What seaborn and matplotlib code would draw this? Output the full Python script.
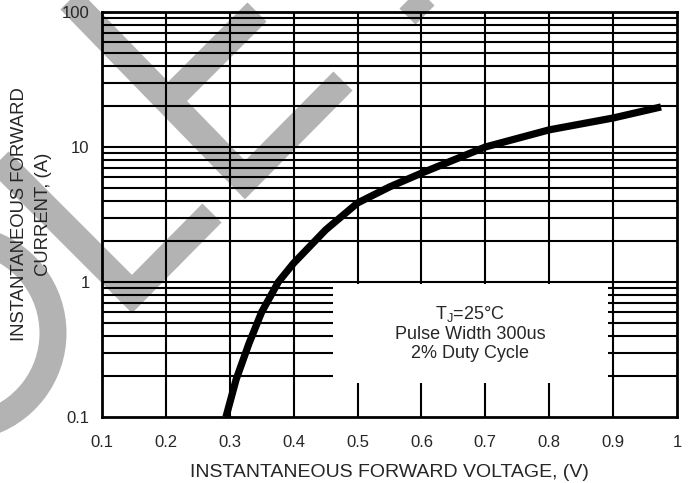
import numpy as np
import pandas as pd
import matplotlib
matplotlib.use("Agg")
import matplotlib.pyplot as plt
import seaborn as sns
from matplotlib.lines import Line2D
from matplotlib.patches import Rectangle, Arc

# ----------------------------- DATA -----------------------------
voltage = [0.294, 0.31, 0.33, 0.35, 0.376, 0.40, 0.45, 0.50, 0.55, 0.60, 0.70, 0.80, 0.90, 0.975]
current = [0.1, 0.19, 0.35, 0.6, 1.0, 1.38, 2.43, 3.85, 5.06, 6.4, 10, 13.4, 16.4, 19.8]

x_ticks = [0.1, 0.2, 0.3, 0.4, 0.5, 0.6, 0.7, 0.8, 0.9, 1.0]
x_tick_labels = ["0.1", "0.2", "0.3", "0.4", "0.5", "0.6", "0.7", "0.8", "0.9", "1"]
y_ticks = [0.1, 1, 10, 100]
y_tick_labels = ["0.1", "1", "10", "100"]

note_lines = ["T$_\\mathregular{J}$=25°C", "Pulse Width 300us", "2% Duty Cycle"]

df = pd.DataFrame({"V": voltage, "I": current})

# ----------------------------- STYLE -----------------------------
sns.set_style("white")
plt.rcParams["font.family"] = ["Liberation Sans", "DejaVu Sans"]

W, H = 689, 483
fig = plt.figure(figsize=(W / 100, H / 100), dpi=100)
ax = fig.add_axes([102 / W, 1 - 417 / H, 575 / W, 405 / H])
ax.set_zorder(1)
ax.patch.set_alpha(0)

# ----------------------------- WATERMARK (grey bands behind) -----------------------------
wm_color = "#b3b3b3"
wm_lw = 27 * 72 / 100


def px(points):
    xs = [p[0] / W for p in points]
    ys = [1 - p[1] / H for p in points]
    return xs, ys


for pts in [
    [(70, 0), (245, 180), (343, 81)],
    [(257, 12), (168, 101)],
    [(385, -25), (425, 15)],
    [(-20, 142), (132, 294), (212, 213)],
]:
    xs, ys = px(pts)
    fig.add_artist(Line2D(xs, ys, transform=fig.transFigure, color=wm_color, lw=wm_lw,
                          solid_capstyle="butt", solid_joinstyle="miter", zorder=0))

arc = Arc((-41.6, H - 333), 2 * 94.6, 2 * 94.6, theta1=-75, theta2=75,
          transform=None, color=wm_color, lw=wm_lw, zorder=0)
fig.add_artist(arc)

# ----------------------------- GRID -----------------------------
ax.set_yscale("log")
ax.set_xlim(0.1, 1.0)
ax.set_ylim(0.1, 100)

grid_lw = 1.5
for v in x_ticks[1:-1]:
    ax.axvline(v, color="black", lw=grid_lw, zorder=1)
for dec in [0.1, 1, 10]:
    for m in range(1, 10):
        y = dec * m
        if 0.1 < y < 100:
            ax.axhline(y, color="black", lw=grid_lw, zorder=1)

# white note box covering the grid
ax.add_patch(Rectangle((0.4615, 0.18), 0.892 - 0.4615, 0.965 - 0.18,
                       facecolor="white", edgecolor="none", zorder=2))
ax.text(0.676, 0.42, "\n".join(note_lines), ha="center", va="center",
        fontsize=13, linespacing=1.15, zorder=3)

# ----------------------------- CURVE -----------------------------
sns.lineplot(data=df, x="V", y="I", ax=ax, color="black", lw=5.2, sort=False,
             zorder=4, legend=False)
ax.lines[-1].set_solid_capstyle("butt")

for s in ax.spines.values():
    s.set_visible(True)
    s.set_color("black")
    s.set_linewidth(2)
    s.set_zorder(5)

ax.set_xticks(x_ticks)
ax.set_xticklabels(x_tick_labels)
ax.set_yticks(y_ticks)
ax.set_yticklabels(y_tick_labels)
ax.minorticks_off()
ax.tick_params(axis="both", length=0, labelsize=12)
ax.tick_params(axis="x", pad=13)
ax.tick_params(axis="y", pad=9)

ax.set_xlabel("INSTANTANEOUS FORWARD VOLTAGE, (V)", fontsize=14, labelpad=10)
ax.set_ylabel("")
fig.text(20 / W, 1 - 214 / H, "INSTANTANEOUS FORWARD", rotation=90, fontsize=13.3,
         ha="center", va="center")
fig.text(44 / W, 1 - 214 / H, "CURRENT, (A)", rotation=90, fontsize=13.3,
         ha="center", va="center")

fig.savefig("out.png", dpi=100)
plt.close(fig)
